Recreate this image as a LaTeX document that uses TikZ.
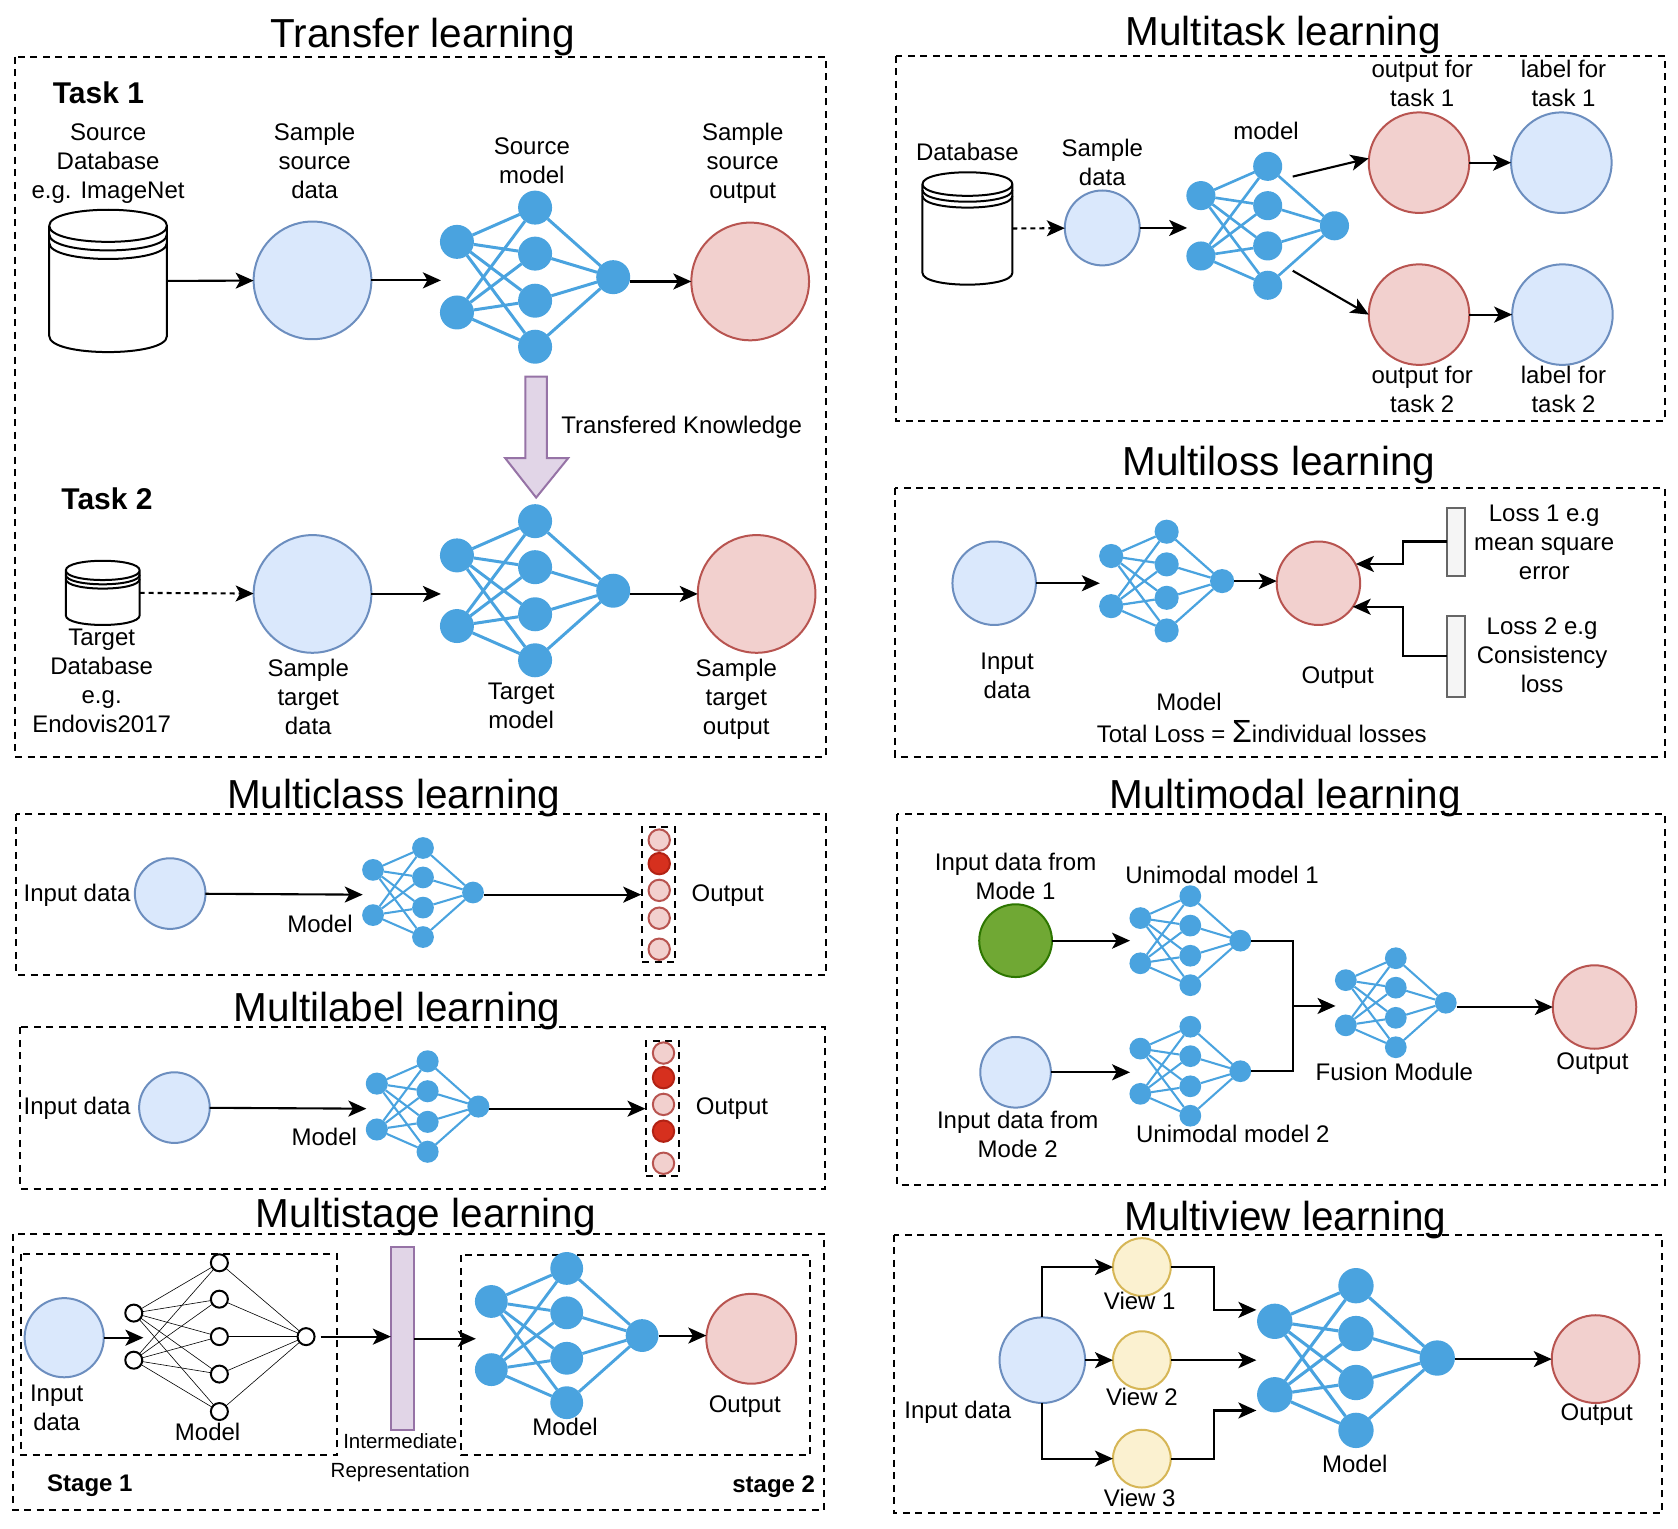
\documentclass[tikz,border=0pt]{standalone}
\usepackage{fontspec}
\setmainfont{Liberation Sans}
\usepackage{tikz}
\usetikzlibrary{arrows.meta}

\definecolor{netblue}{RGB}{74,163,223}

\tikzset{
    frame/.style={draw, line width=2pt, dash pattern=on 7pt off 5.5pt},
    rad/.style={minimum size=#1*2.14pt},
    blob/.style={circle, inner sep=0pt, outer sep=0pt, line width=2pt},
    bluedata/.style={blob, draw={rgb,255:red,108;green,142;blue,191}, fill={rgb,255:red,218;green,232;blue,252}},
    redout/.style={blob, draw={rgb,255:red,184;green,84;blue,80}, fill={rgb,255:red,242;green,208;blue,206}},
    hot/.style={blob, draw={rgb,255:red,178;green,34;blue,20}, fill={rgb,255:red,214;green,48;blue,30}},
    yellowview/.style={blob, draw={rgb,255:red,214;green,182;blue,86}, fill={rgb,255:red,251;green,241;blue,208}},
    greendata/.style={blob, draw={rgb,255:red,45;green,118;blue,0}, fill={rgb,255:red,112;green,168;blue,52}},
    purplebar/.style={draw={rgb,255:red,150;green,115;blue,166}, fill={rgb,255:red,225;green,213;blue,231}, line width=2pt},
    greybar/.style={draw={rgb,255:red,102;green,102;blue,102}, fill={rgb,255:red,245;green,245;blue,245}, line width=2pt},
    lbl/.style={align=center, inner sep=0pt, font=\fontsize{24}{29}\selectfont},
    smalllbl/.style={align=center, inner sep=0pt, font=\fontsize{20.5}{25}\selectfont},
    titlelbl/.style={inner sep=0pt, font=\fontsize{40.5}{48}\selectfont},
    tasklbl/.style={inner sep=0pt, font=\bfseries\fontsize{30}{34}\selectfont},
    stagelbl/.style={inner sep=0pt, font=\bfseries\fontsize{24}{29}\selectfont},
    smallnode/.style={circle, draw, fill=white, line width=2pt, inner sep=0pt, outer sep=0pt, minimum size=17pt},
    link/.style={->, line width=2.1pt},
    dashlink/.style={->, line width=2.1pt, dash pattern=on 5pt off 4pt},
    plainlink/.style={line width=2.1pt},
}

% name, x, y, scale
\newcommand{\drawnet}[4]{
    \pgfmathsetmacro{\netu}{#4*1.0702}
    \pgfmathsetmacro{\netd}{#4*34}
    \pgfmathsetmacro{\netw}{#4*2.6+0.4}
    \begin{scope}[shift={(#2,#3)}, x=\netu pt, y=-\netu pt,
        unit/.style={circle, fill=netblue, inner sep=0pt, outer sep=0pt, minimum size=\netd pt},
        wire/.style={draw=netblue, line width=\netw pt}]
    \node[unit] (#1o) at (0,0) {};
    \foreach \k/\v in {1/-33,2/33} \node[unit] (#1i\k) at (-146,\v) {};
    \foreach \k/\v in {1/-65,2/-22,3/22,4/65} \node[unit] (#1m\k) at (-73,\v) {};
    \foreach \a in {1,2} \foreach \b in {1,2,3,4} \draw[wire] (#1i\a) -- (#1m\b);
    \foreach \b in {1,2,3,4} \draw[wire] (#1m\b) -- (#1o);
    \coordinate (#1in) at (-161,0);
    \end{scope}
}

% name, x, top, width, height, cap, gap
\newcommand{\drawdb}[7]{
    \pgfmathsetmacro{\dbl}{#2-#4/2}
    \pgfmathsetmacro{\dbr}{#2+#4/2}
    \pgfmathsetmacro{\dbm}{#3+#6}
    \pgfmathsetmacro{\dbb}{#3+#5-#6}
    \pgfmathsetmacro{\dbk}{#6*4/3}
    \node[inner sep=0pt, outer sep=0pt, minimum width=#4*1.0702pt, minimum height=#5*1.0702pt] (#1) at (#2,#3+#5/2) {};
    \draw[line width=2pt, line join=round]
        (\dbl,\dbm) .. controls (\dbl,\dbm-\dbk) and (\dbr,\dbm-\dbk) .. (\dbr,\dbm)
        .. controls (\dbr,\dbm+\dbk) and (\dbl,\dbm+\dbk) .. (\dbl,\dbm) -- cycle
        (\dbl,\dbm) -- (\dbl,\dbb) .. controls (\dbl,\dbb+\dbk) and (\dbr,\dbb+\dbk) .. (\dbr,\dbb) -- (\dbr,\dbm);
    \foreach \g in {1,2}
        \draw[line width=2pt] (\dbl,\dbm+\g*#7) .. controls (\dbl,\dbm+\g*#7+\dbk) and (\dbr,\dbm+\g*#7+\dbk) .. (\dbr,\dbm+\g*#7);
}

\begin{document}
\begin{tikzpicture}[
    x=1.0702pt, y=-1.0702pt,
    >={Stealth[length=18pt, width=16pt, inset=4.5pt]}
]
\useasboundingbox (0,0) rectangle (1568,1428);

% frames
\draw[frame] (14,53) rectangle (772,707);
\draw[frame] (837,52) rectangle (1556,393);
\draw[frame] (836,456) rectangle (1556,707);
\draw[frame] (15,761) rectangle (772,911);
\draw[frame] (838,761) rectangle (1556,1107);
\draw[frame] (19,960) rectangle (771,1111);
\draw[frame] (12,1153) rectangle (770,1411);
\draw[frame] (20,1172) rectangle (315,1360);
\draw[frame] (431,1173) rectangle (757,1360);
\draw[frame] (835,1154) rectangle (1553,1414);

% titles
\node[titlelbl] (ttransfer) at (395,35) {Transfer learning};
\node[titlelbl] (tmultitask) at (1199,33) {Multitask learning};
\node[titlelbl] (tmultiloss) at (1195,435) {Multiloss learning};
\node[titlelbl] (tmulticlass) at (368,746) {Multiclass learning};
\node[titlelbl] (tmultimodal) at (1201,746) {Multimodal learning};
\node[titlelbl] (tmultilabel) at (371,945) {Multilabel learning};
\node[titlelbl] (tmultistage) at (398,1137) {Multistage learning};
\node[titlelbl] (tmultiview) at (1201,1140) {Multiview learning};

% transfer learning
\drawdb{dba}{101}{196}{110}{133}{15}{8}
\drawdb{dbb}{96}{524}{69}{60}{9}{4}
\node[bluedata, rad=55] (srcdata) at (292,262) {};
\node[redout, rad=55] (srcout) at (701,263) {};
\node[bluedata, rad=55] (tgtdata) at (292,555) {};
\node[redout, rad=55] (tgtout) at (707,555) {};
\drawnet{srcnet}{573}{259}{1}
\drawnet{tgtnet}{573}{552}{1}
\draw[link] (dba.east) -- (srcdata);
\draw[link] (srcdata) -- (srcdata -| srcnetin);
\draw[link] (srcneto.east |- srcout) -- (srcout);
\draw[dashlink] (dbb.east) -- (tgtdata);
\draw[link] (tgtdata) -- (tgtdata -| tgtnetin);
\draw[link] (tgtneto.east |- tgtout) -- (tgtout);
\draw[purplebar, line join=miter] (491,352) -- (511,352) -- (511,428) -- (531,428) -- (501,465) -- (472,428) -- (491,428) -- cycle;
\node[tasklbl] (taska) at (92,87) {Task 1};
\node[tasklbl] (taskb) at (100,466) {Task 2};
\node[lbl] (ldba) at (101,153) {Source\\Database\\e.g. ImageNet};
\node[lbl] (lsrcdata) at (294,150) {Sample\\source\\data};
\node[lbl] (lsrcnet) at (497,150) {Source\\model};
\node[lbl] (lsrcout) at (694,153) {Sample\\source\\output};
\node[lbl] (lknow) at (637,399) {Transfered Knowledge};
\node[lbl] (ldbb) at (95,636) {Target\\Database\\e.g.\\Endovis2017};
\node[lbl] (ltgtdata) at (288,651) {Sample\\target\\data};
\node[lbl] (ltgtnet) at (487,660) {Target\\model};
\node[lbl] (ltgtout) at (688,653) {Sample\\target\\output};

% multitask learning
\drawdb{dbc}{904}{161}{84}{105}{11}{5.5}
\node[bluedata, rad=35] (mtdata) at (1030,213) {};
\node[redout, rad=47] (mtouta) at (1326,152) {};
\node[bluedata, rad=47] (mtlaba) at (1459,152) {};
\node[redout, rad=47] (mtoutb) at (1326,294) {};
\node[bluedata, rad=47] (mtlabb) at (1460,294) {};
\drawnet{mtnet}{1247}{211}{0.855}
\coordinate (mtfroma) at (1208,165);
\coordinate (mtfromb) at (1208,253);
\draw[dashlink] (dbc.east) -- (mtdata);
\draw[link] (mtdata) -- (mtdata -| mtnetin);
\draw[link] (mtfroma) -- (mtouta.west |- 0,148);
\draw[link] (mtfromb) -- (mtoutb.west);
\draw[link] (mtouta) -- (mtlaba);
\draw[link] (mtoutb) -- (mtlabb);
\node[lbl] (ldbc) at (904,142) {Database};
\node[lbl] (lmtdata) at (1030,152) {Sample\\data};
\node[lbl] (lmtnet) at (1183,122) {model};
\node[lbl] (lmtouta) at (1329,78) {output for\\task 1};
\node[lbl] (lmtlaba) at (1461,78) {label for\\task 1};
\node[lbl] (lmtoutb) at (1329,364) {output for\\task 2};
\node[lbl] (lmtlabb) at (1461,364) {label for\\task 2};

% multiloss learning
\node[bluedata, rad=39] (mldata) at (929,545) {};
\node[redout, rad=39] (mlout) at (1232,545) {};
\drawnet{mlnet}{1142}{543}{0.71}
\node[greybar, inner sep=0pt, outer sep=0pt, minimum width=18pt, minimum height=68pt] (lossa) at (1360.5,506) {};
\node[greybar, inner sep=0pt, outer sep=0pt, minimum width=18pt, minimum height=81pt] (lossb) at (1360.5,613) {};
\coordinate (mlhita) at (1267,527);
\coordinate (mlhitb) at (1264,567);
\draw[link] (mldata) -- (mldata -| mlnetin);
\draw[link] (mlneto) -- (mlneto -| mlout.west);
\draw[link] (lossa.west) -| (1311,527) -- (mlhita);
\draw[link] (lossb.west) -| (1311,567) -- (mlhitb);
\node[lbl] (lmldata) at (941,632) {Input\\data};
\node[lbl] (lmlnet) at (1111,656) {Model};
\node[lbl] (lmlout) at (1250,633) {Output};
\node[lbl] (ltotal) at (1179,684) {Total Loss = {\fontsize{32}{29}\selectfont Σ}individual losses};
\node[lbl] (llossa) at (1443,507) {Loss 1 e.g\\mean square\\error};
\node[lbl] (llossb) at (1441,612) {Loss 2 e.g\\Consistency\\loss};

% multiclass learning
\node[bluedata, rad=33] (mcdata) at (159,835) {};
\drawnet{mcnet}{442}{834}{0.64}
\node[frame, inner sep=0pt, minimum width=33pt, minimum height=135pt] (mcbox) at (615.5,836) {};
\foreach \k/\v/\s in {1/785/redout,2/807/hot,3/832/redout,4/858/redout,5/887/redout}
    \node[\s, rad=10] (mcc\k) at (616,\v) {};
\draw[link] (mcdata) -- (mcnetin |- 0,836);
\draw[link] (mcneto.east |- mcbox) -- (mcbox.west);
\node[lbl] (lmcdata) at (72,837) {Input data};
\node[lbl] (lmcnet) at (299,863) {Model};
\node[lbl] (lmcout) at (680,837) {Output};

% multilabel learning
\node[bluedata, rad=33] (mbdata) at (163,1035) {};
\drawnet{mbnet}{447}{1034}{0.65}
\node[frame, inner sep=0pt, minimum width=33pt, minimum height=135pt] (mbbox) at (619.5,1036) {};
\foreach \k/\v/\s in {1/984/redout,2/1007/hot,3/1032/redout,4/1057/hot,5/1087/redout}
    \node[\s, rad=10] (mbc\k) at (620,\v) {};
\draw[link] (mbdata) -- (mbnetin |- 0,1036);
\draw[link] (mbneto.east |- mbbox) -- (mbbox.west);
\node[lbl] (lmbdata) at (72,1036) {Input data};
\node[lbl] (lmbnet) at (303,1062) {Model};
\node[lbl] (lmbout) at (684,1036) {Output};

% multistage learning
\node[bluedata, rad=37] (msdata) at (60,1250) {};
\foreach \k/\v in {1/1227,2/1271} \node[smallnode] (msa\k) at (125,\v) {};
\foreach \k/\v in {1/1180,2/1214,3/1249,4/1284,5/1319} \node[smallnode] (msb\k) at (205,\v) {};
\node[smallnode] (msc) at (286,1249) {};
\foreach \a in {1,2} \foreach \b in {1,2,3,4,5} \draw[line width=0.6pt] (msa\a) -- (msb\b);
\foreach \b in {1,2,3,4,5} \draw[line width=0.6pt] (msb\b) -- (msc);
\node[purplebar, inner sep=0pt, outer sep=0pt, minimum width=23pt, minimum height=183pt] (msbar) at (376,1250.5) {};
\drawnet{msnet}{600}{1248}{0.965}
\node[redout, rad=42] (msout) at (702,1251) {};
\coordinate (msgo) at (134,1250);
\draw[link] (msdata) -- (msgo);
\draw[link, shorten <=6pt] (msc) -- (msbar.west |- msc);
\draw[link] (msbar.east |- 0,1251) -- (msnetin |- 0,1251);
\draw[link] (msneto) -- (msout.west |- msneto);
\node[lbl] (lmsdata) at (53,1316) {Input\\data};
\node[lbl] (lmsnet) at (194,1338) {Model};
\node[lbl] (lmsmodel) at (528,1333) {Model};
\node[lbl] (lmsout) at (696,1314) {Output};
\node[smalllbl] (lmsrep) at (374,1362) {Intermediate\\[4pt]Representation};
\node[stagelbl] (stagea) at (84,1388) {Stage 1};
\node[stagelbl] (stageb) at (723,1389) {stage 2};

% multimodal learning
\node[greendata, rad=34] (mmdataa) at (949,879) {};
\node[bluedata, rad=33] (mmdatab) at (949,1002) {};
\drawnet{uma}{1159}{879}{0.64}
\drawnet{umb}{1159}{1001}{0.64}
\drawnet{fus}{1351}{937}{0.64}
\node[redout, rad=39] (mmout) at (1490,941) {};
\coordinate (mmjoin) at (1208,940);
\draw[link] (mmdataa) -- (mmdataa -| umain);
\draw[link] (mmdatab) -- (mmdatab -| umbin);
\draw[plainlink] (umao) -| (mmjoin) |- (umbo);
\draw[link] (mmjoin) -- (mmjoin -| fusin);
\draw[link] (fuso.east |- mmout) -- (mmout.west);
\node[lbl] (lmmdataa) at (949,819) {Input data from\\Mode 1};
\node[lbl] (luma) at (1142,818) {Unimodal model 1};
\node[lbl] (lmmdatab) at (951,1060) {Input data from\\Mode 2};
\node[lbl] (lumb) at (1152,1060) {Unimodal model 2};
\node[lbl] (lfus) at (1303,1002) {Fusion Module};
\node[lbl] (lmmout) at (1488,994) {Output};

% multiview learning
\node[bluedata, rad=40] (mvdata) at (974,1271) {};
\node[yellowview, rad=27] (mvva) at (1067,1184) {};
\node[yellowview, rad=27] (mvvb) at (1067,1271) {};
\node[yellowview, rad=27] (mvvc) at (1067,1363) {};
\drawnet{mvnet}{1343}{1269}{1.04}
\node[redout, rad=41] (mvout) at (1491,1270) {};
\coordinate (mvhita) at (1174,1224);
\coordinate (mvhitb) at (1174,1271);
\coordinate (mvhitc) at (1174,1318);
\draw[link] (mvdata.north) |- (mvva.west);
\draw[link] (mvdata) -- (mvvb);
\draw[link] (mvdata.south) |- (mvvc.west);
\draw[link] (mvva.east) -| (1134,1224) -- (mvhita);
\draw[link] (mvvb.east) -- (mvhitb);
\draw[link] (mvvc.east) -| (1134,1318) -- (mvhitc);
\draw[link] (mvneto.east |- mvout) -- (mvout.west);
\node[lbl] (lmvdata) at (895,1320) {Input data};
\node[lbl] (lmvva) at (1065,1216) {View 1};
\node[lbl] (lmvvb) at (1067,1305) {View 2};
\node[lbl] (lmvvc) at (1065,1400) {View 3};
\node[lbl] (lmvnet) at (1266,1368) {Model};
\node[lbl] (lmvout) at (1492,1322) {Output};
\end{tikzpicture}
\end{document}
